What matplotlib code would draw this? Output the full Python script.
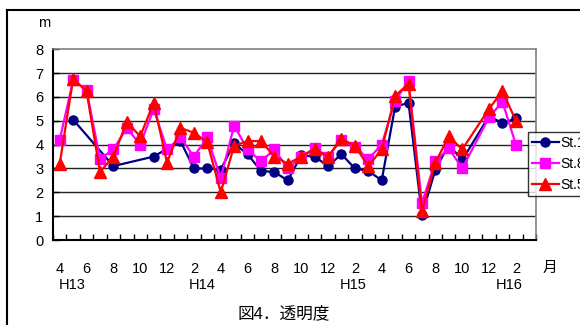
import numpy as np
import matplotlib
matplotlib.use("Agg")
import matplotlib.pyplot as plt
from matplotlib.lines import Line2D

plt.rcParams['font.family'] = ['Liberation Sans', 'Noto Sans CJK JP', 'DejaVu Sans']

nan = np.nan

# Monthly transparency (m), April H13 through March H16
month_numbers = [4, 5, 6, 7, 8, 9, 10, 11, 12, 1, 2, 3] * 3
year_labels = ["H13", "H14", "H15", "H16"]
year_label_pos = [0.9, 10.6, 21.9, 33.5]

st1 = [nan, 5.05, nan, nan, 3.1, nan, nan, 3.5, nan, 4.15, 3.0, 3.0,
       2.95, 4.05, 3.6, 2.9, 2.85, 2.5, 3.55, 3.5, 3.1, 3.6, 3.0, 2.9,
       2.5, 5.6, 5.75, 1.05, 2.95, 4.0, 3.35, nan, 5.2, 4.9, 5.1, nan]
st8 = [4.2, 6.7, 6.3, 3.4, 3.8, 4.7, 4.0, 5.5, 3.8, 4.3, 3.5, 4.3,
       2.6, 4.8, 3.8, 3.3, 3.8, 3.0, 3.5, 3.85, 3.5, 4.2, 3.9, 3.4,
       4.0, 5.85, 6.65, 1.55, 3.3, 3.85, 3.0, nan, 5.15, 5.8, 4.0, nan]
st5 = [3.2, 6.75, 6.25, 2.85, 3.5, 4.95, 4.35, 5.75, 3.25, 4.7, 4.5, 4.1,
       2.0, 3.95, 4.15, 4.15, 3.5, 3.2, 3.5, 3.8, 3.5, 4.25, 3.95, 3.1,
       3.8, 6.05, 6.55, 1.2, 3.25, 4.35, 3.8, nan, 5.5, 6.25, 5.0, nan]

series = [
    ("St.1", st1, "#000080", "o", 6.5),
    ("St.8", st8, "#FF00FF", "s", 7.0),
    ("St.5", st5, "#FF0000", "^", 8.0),
]

fig = plt.figure(figsize=(5.8, 3.25), dpi=100)
ax = fig.add_axes([53 / 580, 85 / 325, 483 / 580, 190.7 / 325])

n = len(month_numbers)
x = np.arange(n)
handles = []
for name, vals, color, marker, ms in series:
    v = np.asarray(vals, dtype=float)
    ok = ~np.isnan(v)
    h, = ax.plot(x[ok], v[ok], color=color, lw=1.6, marker=marker,
                 markersize=ms, markerfacecolor=color, markeredgecolor=color,
                 label=name, clip_on=False)
    handles.append(h)

ax.set_xlim(-0.5, n - 0.5)
ax.set_ylim(0, 8)
ax.set_yticks(range(0, 9))
for yv in range(1, 8):
    ax.axhline(yv, color="#222222", lw=1.0, zorder=0)

ax.set_xticks(x[::2])
ax.set_xticklabels([str(m) for m in month_numbers[::2]], fontsize=10.5)
ax.set_xticks(np.arange(-0.5, n, 1.0), minor=True)
ax.tick_params(axis="x", which="major", length=0, pad=16)
ax.tick_params(axis="x", which="minor", direction="in", length=4, width=1)
ax.tick_params(axis="y", direction="in", length=4, width=1, pad=7, labelsize=10.5)

for side in ("left", "bottom"):
    ax.spines[side].set_color("black")
    ax.spines[side].set_linewidth(1.5)
for side in ("top", "right"):
    ax.spines[side].set_color("#808080")
    ax.spines[side].set_linewidth(1.2)

xt = ax.get_xaxis_transform()
for lab, pos in zip(year_labels, year_label_pos):
    ax.text(pos, -0.236, lab, transform=xt, ha="center", va="center", fontsize=10.5)

fig.text(44 / 580, 1 - 23 / 325, "m", ha="center", va="center", fontsize=10.5)
fig.text(550 / 580, 1 - 268 / 325, "月", ha="center", va="center", fontsize=10.5)
fig.text(284 / 580, 1 - 313 / 325, "図4．透明度", ha="center", va="center", fontsize=12)

leg = fig.legend(handles=handles, loc="upper left",
                 bbox_to_anchor=(528 / 580, 1 - 132 / 325),
                 fontsize=10, frameon=True, fancybox=False, edgecolor="black",
                 handlelength=1.9, handletextpad=0.15, borderpad=0.3,
                 borderaxespad=0, labelspacing=0.5)
leg.get_frame().set_linewidth(1.0)

# outer chart frame
fig.add_artist(Line2D([7 / 580, 7 / 580], [0, 1 - 10 / 325], color="black", lw=1.5))
fig.add_artist(Line2D([7 / 580, 1], [1 - 10 / 325, 1 - 10 / 325], color="black", lw=1.5))

fig.savefig("out.png", dpi=100)
